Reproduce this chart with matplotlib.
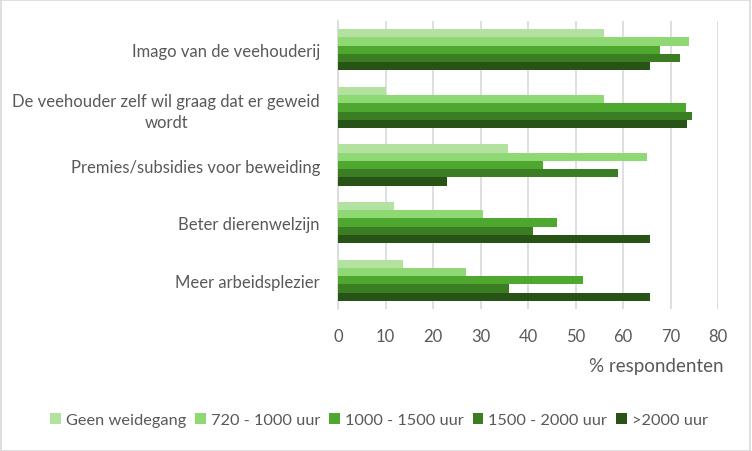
import matplotlib.pyplot as plt
import numpy as np
from matplotlib.patches import Rectangle

plt.rcParams['font.family'] = ['Lato', 'DejaVu Sans']

categories = ["Imago van de veehouderij",
              "De veehouder zelf wil graag dat er geweid\nwordt",
              "Premies/subsidies voor beweiding",
              "Beter dierenwelzijn",
              "Meer arbeidsplezier"]
series_names = ["Geen weidegang", "720 - 1000 uur", "1000 - 1500 uur",
                "1500 - 2000 uur", ">2000 uur"]
geen = [56.0, 10.0, 35.7, 11.7, 13.6]
u720_1000 = [73.8, 55.9, 65.1, 30.6, 27.0]
u1000_1500 = [67.7, 73.2, 43.2, 46.0, 51.5]
u1500_2000 = [72.1, 74.6, 59.0, 41.1, 35.9]
u2000plus = [65.6, 73.4, 23.0, 65.6, 65.6]
colors = ["#B3E2A0", "#8ED973", "#4EA72E", "#3A7D22", "#275317"]

series = [geen, u720_1000, u1000_1500, u1500_2000, u2000plus]
text_color = "#595959"

fig = plt.figure(figsize=(7.52, 4.52), dpi=100)
ax = fig.add_axes([338 / 752, 1 - 310 / 452, 380 / 752, 288 / 452])

y = np.arange(len(categories))
h = 0.143
for i, (vals, name) in enumerate(zip(series, series_names)):
    ax.barh(y + (i - 2) * h, vals, height=h, color=colors[i], label=name, zorder=3)

ax.set_ylim(len(categories) - 0.5, -0.5)
ax.set_xlim(0, 80)
ax.set_xticks(range(0, 81, 10))
ax.set_yticks(y)
ax.set_yticklabels(categories, multialignment='center', linespacing=1.4)
ax.xaxis.grid(True, color="#D9D9D9", linewidth=1.2, zorder=0)
ax.tick_params(axis='x', length=0, pad=14, labelsize=12, labelcolor=text_color)
ax.tick_params(axis='y', length=0, pad=13, labelsize=12, labelcolor=text_color)
for s in ['top', 'right', 'bottom']:
    ax.spines[s].set_visible(False)
ax.spines['left'].set_color("#D9D9D9")
ax.spines['left'].set_linewidth(1.2)

fig.text(724 / 752, 1 - 367 / 452, "% respondenten", ha='right', va='center',
         fontsize=13.5, color=text_color)

fig.legend(loc='center', bbox_to_anchor=(379 / 752, 1 - 421 / 452), ncol=5, frameon=False,
           fontsize=11.8, labelcolor=text_color, handlelength=0.65, handleheight=0.65,
           handletextpad=0.3, columnspacing=0.55)

fig.patches.append(Rectangle((0.001, 0.001), 0.997, 0.997, transform=fig.transFigure,
                             fill=False, edgecolor="#D9D9D9", linewidth=1.2))

fig.savefig("out.png", dpi=100)
